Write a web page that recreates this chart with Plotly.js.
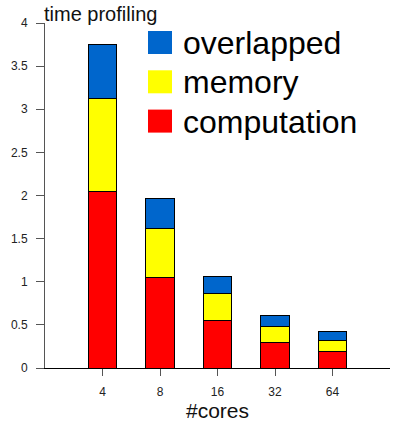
<!DOCTYPE html>
<html><head><meta charset="utf-8">
<script src="https://cdn.plot.ly/plotly-3.0.1.min.js"></script>
<style>html,body{margin:0;padding:0;background:#fff}#c{width:393px;height:423px}</style>
</head><body><div id="c"></div>
<script>
var cores = ['4','8','16','32','64'];
var computation = [2.05, 1.05, 0.55, 0.30, 0.19];
var memory = [1.08, 0.57, 0.31, 0.185, 0.13];
var overlapped = [0.62, 0.34, 0.20, 0.125, 0.105];
var seriesNames = ['overlapped','memory','computation'];
var seriesColors = ['#0066cc','#ffff00','#ff0000'];

var W=393,H=423,ml=45,mr=3,mt=23,mb=55;
var pw=W-ml-mr, ph=H-mt-mb;
function px(x){return (x-ml)/pw;}
function py(y){return (H-mb-y)/ph;}

function bar(name,vals,color){
  return {type:'bar',name:name,x:cores,y:vals,width:0.5,
    marker:{color:color,line:{color:'#000',width:1}},hoverinfo:'skip'};
}
var data=[bar('computation',computation,'#ff0000'),bar('memory',memory,'#ffff00'),bar('overlapped',overlapped,'#0066cc')];

var shapes=[],ann=[];
seriesNames.forEach(function(n,i){
  var cy=42.5+i*39.3;
  shapes.push({type:'rect',xref:'paper',yref:'paper',x0:px(148),x1:px(172),y0:py(cy+11.5),y1:py(cy-11.5),
    fillcolor:seriesColors[i],line:{width:0}});
  ann.push({xref:'paper',yref:'paper',x:px(181),y:py(cy+0.5),xanchor:'left',yanchor:'middle',text:n,showarrow:false,
    font:{family:'Liberation Sans, Arial, sans-serif',size:32,color:'#000'}});
});

var layout={
  width:W,height:H,margin:{l:ml,r:mr,t:mt,b:mb},
  paper_bgcolor:'#fff',plot_bgcolor:'#fff',
  barmode:'stack',showlegend:false,
  font:{family:'Liberation Sans, Arial, sans-serif',color:'#222'},
  title:{text:'time profiling',x:(ml-1)/W,xanchor:'left',y:1-14/H,yanchor:'middle',
    font:{size:20,color:'#111'}},
  xaxis:{type:'category',categoryorder:'array',categoryarray:cores,range:[-1,5],
    showline:true,linecolor:'#000',linewidth:1,showgrid:false,zeroline:false,
    ticks:'outside',ticklen:7,tickcolor:'#555',tickfont:{size:12,color:'#222'},ticklabelstandoff:6,
    title:{text:'#cores',font:{size:21,color:'#111'},standoff:4}},
  yaxis:{range:[0,4],dtick:0.5,showline:true,linecolor:'#555',linewidth:1,showgrid:false,zeroline:false,
    ticks:'outside',ticklen:8,tickcolor:'#555',tickfont:{size:12,color:'#222'},ticklabelstandoff:6},
  shapes:shapes,annotations:ann
};
Plotly.newPlot('c',data,layout,{displayModeBar:false,staticPlot:true});
</script></body></html>
